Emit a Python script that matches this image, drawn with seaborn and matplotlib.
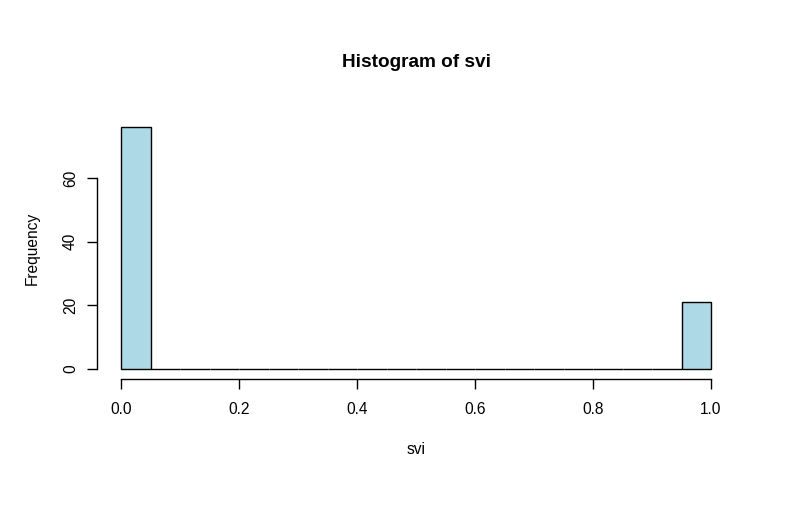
import numpy as np
import pandas as pd
import matplotlib
matplotlib.use("Agg")
import matplotlib.pyplot as plt
import seaborn as sns

# svi is binary: counts of each value
svi_levels = [0, 1]
svi_counts = [76, 21]
bin_edges = np.linspace(0, 1, 21)  # R default breaks, width 0.05

df = pd.DataFrame({"svi": np.repeat(svi_levels, svi_counts)})

sns.set_style("white")
plt.rcParams["font.family"] = ["Liberation Sans", "DejaVu Sans"]
plt.rcParams["text.color"] = "black"

fig = plt.figure(figsize=(7.95, 5.16), dpi=100)
ax = fig.add_axes([97.4 / 795, 137.3 / 516, 637.2 / 795, 261.3 / 516])

sns.histplot(data=df, x="svi", bins=bin_edges, color="#ADD8E6",
             edgecolor="black", linewidth=1, alpha=1, ax=ax)

ax.set_xlim(-0.04, 1.04)
ax.set_ylim(-0.04 * 76, 76 * 1.04)
ax.set_xticks([0, 0.2, 0.4, 0.6, 0.8, 1.0])
ax.set_xticklabels(["0.0", "0.2", "0.4", "0.6", "0.8", "1.0"])
ax.set_yticks([0, 20, 40, 60])
for lab in ax.get_yticklabels():
    lab.set_rotation(90)
    lab.set_va("center")

for s in ["top", "right"]:
    ax.spines[s].set_visible(False)
ax.spines["left"].set_bounds(0, 60)
ax.spines["bottom"].set_bounds(0, 1)
for s in ["left", "bottom"]:
    ax.spines[s].set_color("black")
    ax.spines[s].set_linewidth(1)

ax.tick_params(axis="both", direction="out", length=7, width=1,
               color="black", labelsize=11.2, labelcolor="black",
               left=True, bottom=True)
ax.tick_params(axis="x", pad=10)
ax.tick_params(axis="y", pad=7)

ax.set_xlabel("svi", fontsize=11.2, color="black")
ax.set_ylabel("Frequency", fontsize=11.2, color="black")
ax.xaxis.set_label_coords(0.5, -0.27)
ax.xaxis.label.set_va("center")
ax.yaxis.set_label_coords(-0.1026, 0.5)
ax.yaxis.label.set_va("center")
ax.set_title("Histogram of svi", fontsize=13.7, fontweight="bold",
             y=1.21, pad=0, va="center", color="black")

fig.savefig("out.png", dpi=100, facecolor="white")
